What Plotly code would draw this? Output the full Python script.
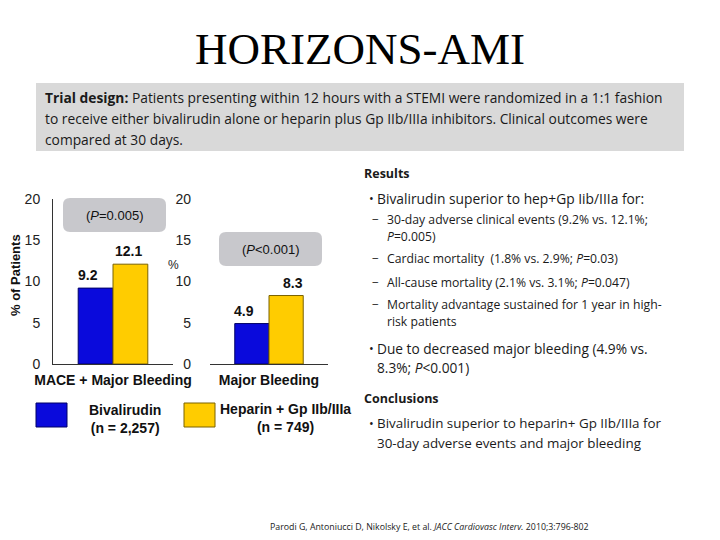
import plotly.graph_objects as go

W, H = 720, 540

# ---------------------------
# data
# ---------------------------
groups = ["MACE + Major Bleeding", "Major Bleeding"]
bival = [9.2, 4.9]
hep = [12.1, 8.3]
p_labels = ["(<i>P</i>=0.005)", "(<i>P</i>&lt;0.001)"]
y_ticks = [0, 5, 10, 15, 20]
arm_names = ["Bivalirudin<br>(n = 2,257)", "Heparin + Gp IIb/IIIa<br>(n = 749)"]

BLUE = "#0A0ADC"
YELLOW = "#FFCC00"
SANS = "Liberation Sans, Arial"
TXT = "Open Sans, Lato"


def px(x):
    return x / W


def py(y):
    return 1 - y / H


fig = go.Figure()

axes = [("x", "y"), ("x2", "y2")]
for i, (xa, ya) in enumerate(axes):
    fig.add_trace(go.Bar(x=[groups[i]], y=[bival[i]], xaxis=xa, yaxis=ya,
                         marker=dict(color=BLUE, line=dict(color="#000066", width=1)),
                         showlegend=False, hoverinfo="skip"))
    fig.add_trace(go.Bar(x=[groups[i]], y=[hep[i]], xaxis=xa, yaxis=ya,
                         marker=dict(color=YELLOW, line=dict(color="#7A6200", width=1)),
                         showlegend=False, hoverinfo="skip"))

ax_common = dict(type="category", showgrid=False, zeroline=False, showline=True,
                 linecolor="#333333", linewidth=1, ticks="", automargin=False,
                 ticklabelstandoff=3,
                 tickfont=dict(family=SANS, size=14, color="#111111", weight="bold"))
y_common = dict(range=[0, 20], tickvals=y_ticks, showgrid=False, zeroline=False,
                ticks="", automargin=False,
                tickfont=dict(family=SANS, size=14, color="#222222"),
                domain=[py(364), py(199)])

fig.update_layout(
    template="none",
    width=W, height=H, margin=dict(l=0, r=0, t=0, b=0, pad=0, autoexpand=False),
    paper_bgcolor="white", plot_bgcolor="white",
    barmode="group", bargap=0.42, bargroupgap=0,
    xaxis=dict(ax_common, domain=[px(53), px(173)], anchor="y"),
    yaxis=dict(y_common, anchor="x", showline=True, linecolor="#333333",
               ticklabelstandoff=9),
    xaxis2=dict(ax_common, domain=[px(210), px(328)], anchor="y2"),
    yaxis2=dict(y_common, anchor="x2", showline=False, ticklabelstandoff=18),
)

shapes = []
annotations = []


def rounded_box(x0, y0, x1, y1, r, color):
    rx, ry = r / W, r / H
    X0, X1, Y0, Y1 = px(x0), px(x1), py(y1), py(y0)
    path = (f"M {X0 + rx},{Y0} L {X1 - rx},{Y0} Q {X1},{Y0} {X1},{Y0 + ry} "
            f"L {X1},{Y1 - ry} Q {X1},{Y1} {X1 - rx},{Y1} L {X0 + rx},{Y1} "
            f"Q {X0},{Y1} {X0},{Y1 - ry} L {X0},{Y0 + ry} Q {X0},{Y0} {X0 + rx},{Y0} Z")
    return dict(type="path", xref="paper", yref="paper", path=path,
                fillcolor=color, line=dict(width=0), layer="below")


def text(x, y, s, size=13, family=TXT, anchor="left", color="#1a1a1a", **kw):
    annotations.append(dict(x=px(x), y=py(y), xref="paper", yref="paper", text=s,
                            showarrow=False, xanchor=anchor, yanchor="middle",
                            align=anchor if anchor != "center" else "center",
                            font=dict(family=family, size=size, color=color), **kw))


# title + design box
text(360, 49, "HORIZONS-AMI", size=45, family="Liberation Serif, Times New Roman",
     anchor="center", color="black")
shapes.append(dict(type="rect", xref="paper", yref="paper", x0=px(36), x1=px(684),
                   y0=py(151), y1=py(83), fillcolor="#D9D9D9", line=dict(width=0),
                   layer="below"))
design = ["<b>Trial design:</b> Patients presenting within 12 hours with a STEMI were randomized in a 1:1 fashion",
          "to receive either bivalirudin alone or heparin plus Gp IIb/IIIa inhibitors. Clinical outcomes were",
          "compared at 30 days."]
for k, line in enumerate(design):
    text(43, 98 + k * 20.5, line, size=13.8)

# p-value boxes
shapes.append(rounded_box(63, 198, 166, 232, 7, "#C8C8CC"))
shapes.append(rounded_box(219, 232, 322, 266, 7, "#C8C8CC"))
text(114, 215, p_labels[0], size=13, family=SANS, anchor="center", color="#111111")
text(270, 249, p_labels[1], size=13, family=SANS, anchor="center", color="#111111")

# bar value labels
offsets = [(-25, 15), (-25, 24)]
for i, (xa, ya) in enumerate(axes):
    for val, dx in zip([bival[i], hep[i]], offsets[i]):
        annotations.append(dict(x=groups[i], y=val, xref=xa, yref=ya, text=f"<b>{val}</b>",
                                showarrow=False, xanchor="center", yanchor="bottom",
                                xshift=dx, yshift=3,
                                font=dict(family=SANS, size=14, color="#111111")))

# axis titles
text(15, 275, "<b>% of Patients</b>", size=13, family=SANS, anchor="center",
     color="#111111", textangle=-90)
text(173, 265, "%", size=12, family=SANS, anchor="center", color="#222222")

# legend boxes
shapes.append(dict(type="rect", xref="paper", yref="paper", x0=px(36), x1=px(67),
                   y0=py(427), y1=py(403), fillcolor=BLUE, line=dict(color="#000066", width=1)))
shapes.append(dict(type="rect", xref="paper", yref="paper", x0=px(184), x1=px(215),
                   y0=py(427), y1=py(403), fillcolor=YELLOW, line=dict(color="#7A6200", width=1)))
text(125, 419, f"<b>{arm_names[0]}</b>", size=14, family=SANS, anchor="center", color="#111111")
text(285, 418, f"<b>{arm_names[1]}</b>", size=14, family=SANS, anchor="center", color="#111111")

# results / conclusions
text(362, 173, "<b>Results</b>", size=12.5)
text(367, 199, "•", size=12.5)
text(375, 199, "Bivalirudin superior to hep+Gp Iib/IIIa for:", size=13.8)
subs = [(219, "30-day adverse clinical events (9.2% vs. 12.1%;"),
        (236, "<i>P</i>=0.005)"),
        (258, "Cardiac mortality  (1.8% vs. 2.9%; <i>P</i>=0.03)"),
        (282, "All-cause mortality (2.1% vs. 3.1%; <i>P</i>=0.047)"),
        (304, "Mortality advantage sustained for 1 year in high-"),
        (321, "risk patients")]
dash_rows = [219, 258, 282, 304]
for yy, s in subs:
    if yy in dash_rows:
        text(370, yy, "−", size=12)
    text(385, yy, s, size=12.2)
text(367, 348, "•", size=12.5)
text(375, 348, "Due to decreased major bleeding (4.9% vs.", size=13.7)
text(375, 367, "8.3%; <i>P</i>&lt;0.001)", size=13.7)
text(362, 398, "<b>Conclusions</b>", size=12.5)
text(367, 423, "•", size=12.5)
text(375, 423, "Bivalirudin superior to heparin+ Gp IIb/IIIa for", size=13.4)
text(375, 443, "30-day adverse events and major bleeding", size=13.4)

# footer
text(429, 527, "Parodi G, Antoniucci D, Nikolsky E, et al. <i>JACC Cardiovasc Interv.</i> 2010;3:796-802",
     size=8.8, anchor="center")

fig.update_layout(shapes=shapes, annotations=annotations)

fig.write_html("out.html", config={"displayModeBar": False},
               post_script="document.body.style.margin = '0px';")
